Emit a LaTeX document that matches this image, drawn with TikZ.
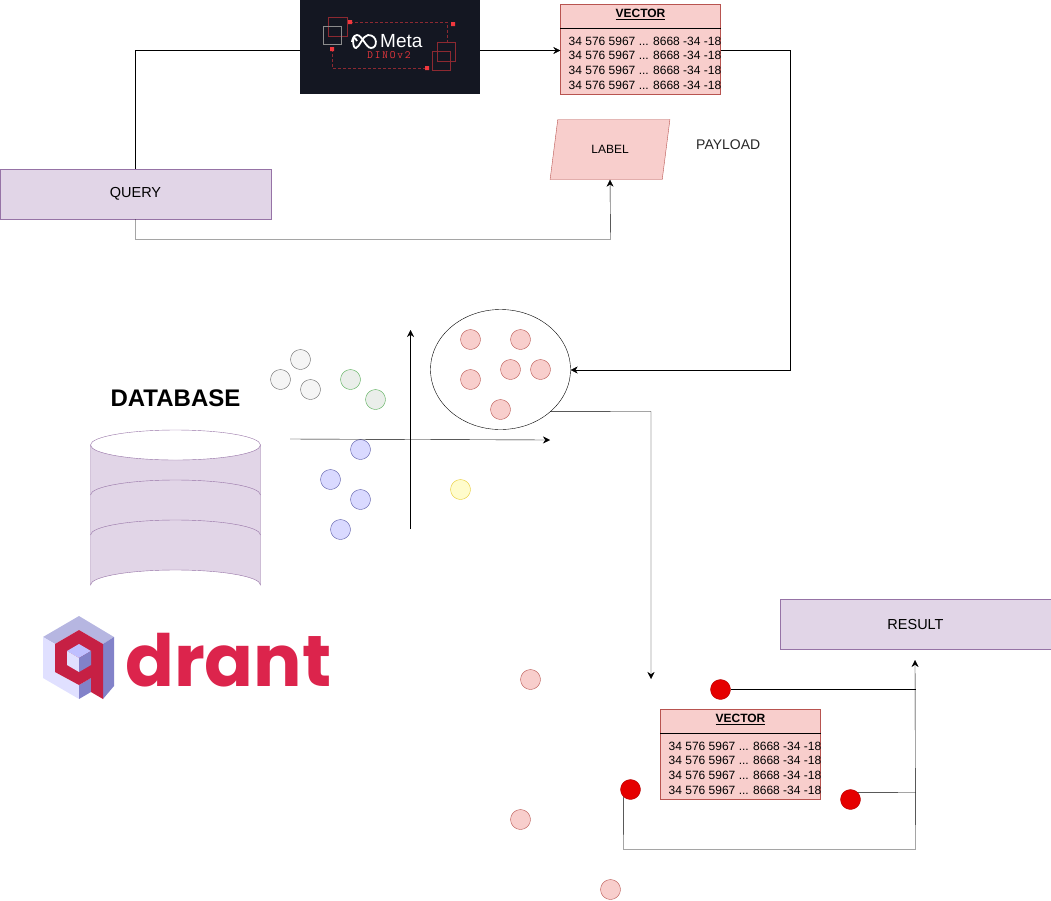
\documentclass[tikz,border=0pt]{standalone}
\usepackage{fontspec}
\setmainfont{Liberation Sans}
\newfontfamily\logofont{Poppins}
\usepackage{tikz}
\usetikzlibrary{shapes,shapes.geometric,arrows.meta,decorations.pathreplacing}
\definecolor{lilac}{HTML}{E1D5E7}
\definecolor{lilacline}{HTML}{9673A6}
\definecolor{rose}{HTML}{F8CECC}
\definecolor{roseline}{HTML}{B85450}
\definecolor{metabg}{HTML}{141722}
\definecolor{metared}{HTML}{F0383E}
\definecolor{qred}{HTML}{DC244C}
\tikzstyle{titlebox} = [rectangle, draw=lilacline, fill=lilac, minimum width=271pt, minimum height=50pt, inner sep=0pt, font=\fontsize{14.5}{17}\selectfont]
\tikzstyle{vecbox} = [rectangle, draw=roseline, fill=rose, minimum width=160pt, minimum height=90pt, inner sep=0pt]
\tikzstyle{vechead} = [inner sep=0pt, font=\fontsize{12}{14}\selectfont\bfseries]
\tikzstyle{vecrow} = [inner sep=0pt, anchor=west, font=\fontsize{12}{14}\selectfont]
\tikzstyle{dot} = [circle, draw, minimum size=20pt, inner sep=0pt]
\tikzstyle{rosedot} = [dot, draw=roseline, fill=rose]
\tikzstyle{graydot} = [dot, draw=black!60, fill=black!4]
\tikzstyle{greendot} = [dot, draw=green!35!gray, fill=green!10!gray!15]
\tikzstyle{bluedot} = [dot, draw=blue!30!gray, fill=blue!15]
\tikzstyle{yellowdot} = [dot, draw=yellow!60!brown, fill=yellow!20]
\tikzstyle{hitdot} = [dot, draw=red!70!black, fill=red!90!black]
\tikzstyle{flow} = [draw, -{Stealth[length=7pt,width=7pt]}]
\tikzstyle{plain} = [draw]
\tikzstyle{brace} = [draw, thin, decorate, decoration={brace, amplitude=9pt}]
\newcommand{\vectable}[3]{%
	\node [vecbox] (#1) at (#2,#3) {};
	\node [vechead] (#1h) at (#2,#3-35) {\underline{VECTOR}};
	\draw ([yshift=-24pt]#1.north west) -- ([yshift=-24pt]#1.north east);
	\foreach \row/\dy in {1/-8,2/6,3/21,4/36}
		\node [vecrow] (#1r\row) at (#2-72,#3+\dy) {34 576 5967 ... 8668 -34 -18};
}
\begin{document}
\begin{tikzpicture}[x=1pt, y=-1pt]
	\useasboundingbox (0,0) rectangle (1051,900);
	% place nodes
	\node [titlebox] (Q) at (135.5,194) {QUERY};
	\node [titlebox] (R) at (915.5,624.5) {RESULT};
	\node [rectangle, fill=metabg, minimum width=180pt, minimum height=94pt, inner sep=0pt] (M) at (390,47) {};
	\vectable{V1}{640.5}{49.5}
	\node [trapezium, trapezium stretches=true, trapezium left angle=71.6, trapezium right angle=108.4, draw=roseline, fill=rose, minimum width=120pt, minimum height=60pt, inner sep=0pt, font=\fontsize{12}{14}\selectfont] (L) at (610,149.5) {LABEL};
	\node [inner sep=0pt, anchor=west, font=\fontsize{14}{17}\selectfont, text=black!85] (P) at (696,144.5) {PAYLOAD};
	\node [inner sep=0pt, font=\fontsize{24}{28}\selectfont\bfseries] (D) at (175.5,398.5) {DATABASE};
	\node [ellipse, draw, minimum width=140pt, minimum height=120pt, inner sep=0pt] (C) at (500.5,369.5) {};
	% cluster points
	\foreach \n/\x/\y in {a/470/339,b/520/339,c/510/369,d/540/369,e/470/379,f/500/409}
		\node [rosedot] (C\n) at (\x.5,\y.5) {};
	\foreach \n/\x/\y in {a/300/359,b/280/379,c/310/389}
		\node [graydot] (G\n) at (\x.5,\y.5) {};
	\foreach \n/\x/\y in {a/350/379,b/375/399}
		\node [greendot] (T\n) at (\x.5,\y.5) {};
	\foreach \n/\x/\y in {a/360/449,b/330/479,c/360/499,d/340/529}
		\node [bluedot] (B\n) at (\x.5,\y.5) {};
	\node [yellowdot] (Y) at (460.5,489.5) {};
	\foreach \n/\x/\y in {a/530/679,b/520/819,c/610/889}
		\node [rosedot] (S\n) at (\x.5,\y.5) {};
	\node [hitdot] (H1) at (720.5,689.5) {};
	\node [hitdot] (H2) at (630.5,789.5) {};
	\node [hitdot] (H3) at (850.5,799.5) {};
	\vectable{V2}{740.5}{754.5}
	\coordinate (XL) at (290,439);
	\coordinate (XR) at (550,440);
	\coordinate (YB) at (410.5,529);
	\coordinate (YT) at (410.5,330);
	\coordinate (J1) at (651,679);
	\coordinate (J2) at (915,660);

	% database
	\path [draw=lilacline, fill=lilac] (90.5,445) -- (90.5,585) arc [x radius=85, y radius=15, start angle=180, end angle=360] -- (260.5,445) arc [x radius=85, y radius=15, start angle=0, end angle=180];
	\path [draw=lilacline] (90.5,445) arc [x radius=85, y radius=15, start angle=180, end angle=360];
	\path [draw=lilacline] (90.5,495) arc [x radius=85, y radius=15, start angle=180, end angle=360];
	\path [draw=lilacline] (90.5,535) arc [x radius=85, y radius=15, start angle=180, end angle=360];

	% meta logo
	\draw [metared!55!metabg, line width=1pt] (328,17) rectangle (347,36) (437,42) rectangle (455,61) (432,51) rectangle (450,70);
	\draw [black!45, line width=1pt] (323,26) rectangle (341,44);
	\draw [metared!55!metabg, densely dashed] (350,22) -- (447.5,22) -- (447.5,42) (332,49) -- (332,68) -- (427,68);
	\fill [metared] (348,20) rectangle +(4,4) (451,22) rectangle +(4,4) (330,47) rectangle +(4,4) (425,66) rectangle +(4,4);
	\draw [white, line width=1.8pt] (357,41) .. controls (352,31) and (352,49) .. (356,48) .. controls (360,47) and (362,36) .. (368,35) .. controls (378,35) and (378,48) .. (371,48) .. controls (366,48) and (362,35) .. (357,35) .. controls (353,35) and (352,41) .. (352,42);
	\node [inner sep=0pt, anchor=west, text=white, font=\fontsize{19}{22}\selectfont] (MT) at (380,41) {Meta};
	\node [inner sep=0pt, text=metared, font=\fontsize{11}{13}\selectfont\ttfamily] (MD) at (389,55.5) {D\,I\,N\,O\,v\,2};

	% qdrant logo
	\fill [black!20!blue!25!white!85!gray] (79,616) -- (114,637) -- (103,644) -- (79,630) -- (55,644) -- (43,637) -- cycle;
	\fill [blue!12] (43,637) -- (55,644) -- (55,672) -- (79,685) -- (79,699) -- (43,678) -- cycle;
	\fill [blue!40!gray!70] (114,637) -- (114,686) -- (103,699) -- (103,644) -- cycle;
	\fill [blue!40!gray!70] (79,685) -- (91,678) -- (91,692) -- (79,699) -- cycle;
	\fill [qred!90!black] (79,630) -- (103,644) -- (103,699) -- (91,692) -- (91,678) -- (79,685) -- (55,672) -- (55,644) -- cycle;
	\fill [blue!25] (79,644) -- (91,651) -- (79,658) -- (67,651) -- cycle;
	\fill [blue!12] (67,651) -- (79,658) -- (79,672) -- (67,665) -- cycle;
	\fill [blue!40!gray!70] (91,651) -- (91,665) -- (79,672) -- (79,658) -- cycle;
	\node [inner sep=0pt, anchor=base west, text=qred, font=\fontsize{72}{80}\selectfont\logofont\bfseries] (QT) at (125,686) {drant};

	% draw edges
	\path [plain] (Q.north) -- (135.5,50.5) -- (M.west |- 0,50.5);
	\path [flow] (M.east |- 0,50.5) -- (V1.west |- 0,50.5);
	\path [flow] (V1.east |- 0,50.5) -- (790.5,50.5) -- (790.5,370) -- (C.east |- 0,370);
	\path [flow] (Q.south) -- (135.5,239.5) -- (610.5,239.5) -- (L.south);
	\path [flow] (XL) -- (XR);
	\path [flow] (YB) -- (YT);
	\path [flow] (C.-40) -- (651,411.5) -- (J1);
	\path [plain] (H1.east) -- (915.5,689.5);
	\path [plain] (H3.north east) -- (915.5,792.5);
	\path [flow] (H2.south west) -- (623.5,849.5) -- (915.5,849.5) -- (J2);
	\path [brace] (550,179) -- (550,179) ++(0,0);
	\draw [brace] (550,179) .. controls (550,179) .. (550,179);
\end{tikzpicture}
\end{document}
